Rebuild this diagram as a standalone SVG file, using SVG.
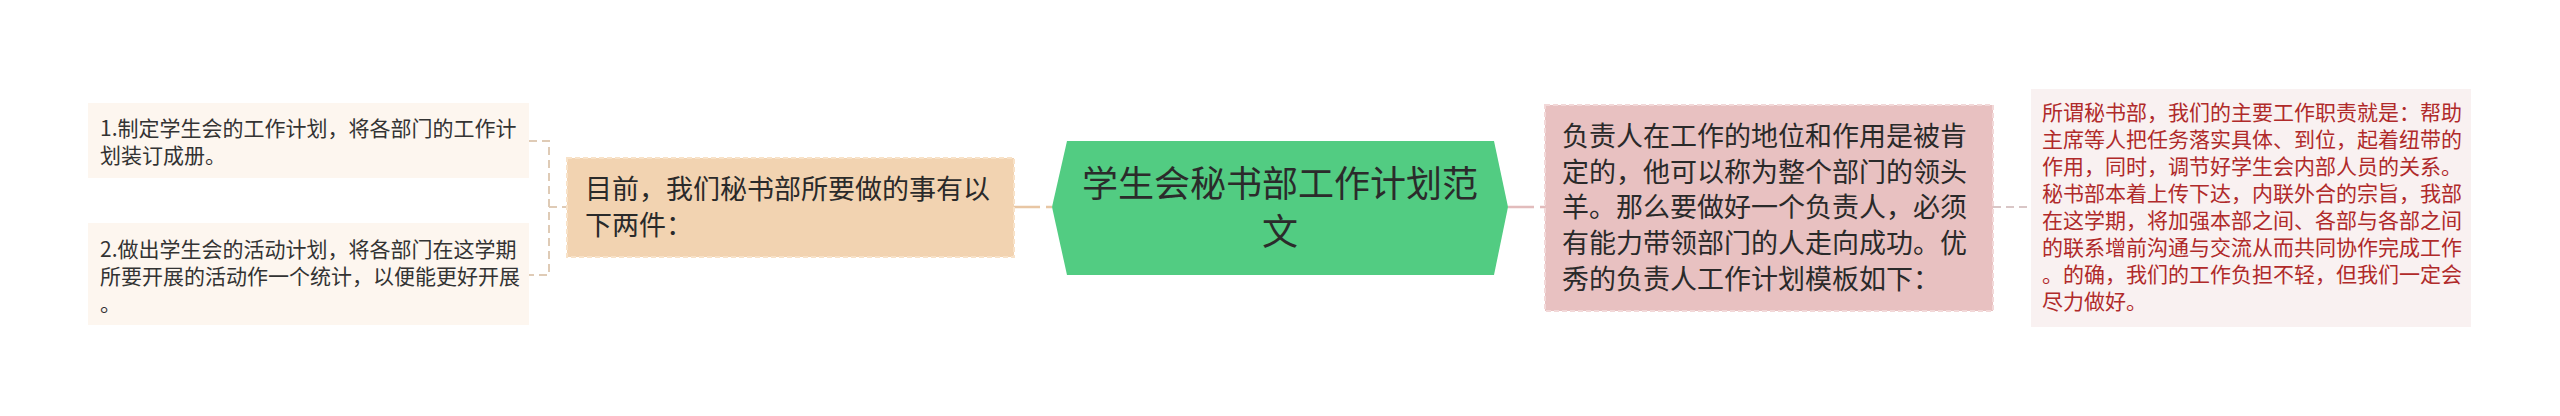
<svg xmlns="http://www.w3.org/2000/svg" width="2560" height="416" viewBox="0 0 2560 416">
<style>
text{font-family:"Noto Sans CJK SC","Noto Sans",sans-serif;}
.s{font-size:21px;fill:#333;}
.m{font-size:27px;fill:#2a2a2a;}
.c{font-size:36px;fill:#2b2b2b;text-anchor:middle;}
.r{font-size:21px;fill:#b02a2a;}
.ct{fill:none;stroke:#dfcbb6;stroke-width:2;stroke-dasharray:8 5;}
.ct2{fill:none;stroke:#e8c6a4;stroke-width:2.5;stroke-dasharray:26 6;}
.cp{fill:none;stroke:#e2bcbc;stroke-width:2.5;stroke-dasharray:26 6;}
.cp2{fill:none;stroke:#d9c6c6;stroke-width:2;stroke-dasharray:8 5;}
</style>
<rect width="2560" height="416" fill="#ffffff"/>
<g id="connectors">
<path class="ct" d="M529 141 H549 V275 H529 M549 207 H567"/>
<path class="ct2" d="M1014 207 H1052"/>
<path class="cp" d="M1508 207 H1545"/>
<path class="cp2" d="M1993 207 H2031"/>
</g>
<g id="node-center">
<polygon points="1052,207 1067,141 1494,141 1508,207 1494,275 1067,275" fill="#52cc82"/>
<text class="c" x="1280" y="197">学生会秘书部工作计划范</text>
<text class="c" x="1280" y="245">文</text>
</g>
<g id="node-left-main">
<rect x="567" y="158" width="447" height="99" fill="#f2d3b1" stroke="#f8e2c8" stroke-width="2" stroke-dasharray="5 3"/>
<text class="m" x="585" y="199">目前，我们秘书部所要做的事有以</text>
<text class="m" x="585" y="235">下两件：</text>
</g>
<g id="node-left-1">
<rect x="88" y="103" width="441" height="75" fill="#fdf6ef"/>
<text class="s" x="100" y="136">1.制定学生会的工作计划，将各部门的工作计</text>
<text class="s" x="100" y="163">划装订成册。</text>
</g>
<g id="node-left-2">
<rect x="88" y="223" width="441" height="102" fill="#fdf6ef"/>
<text class="s" x="100" y="257">2.做出学生会的活动计划，将各部门在这学期</text>
<text class="s" x="100" y="284">所要开展的活动作一个统计，以便能更好开展</text>
<text class="s" x="100" y="311">。</text>
</g>
<g id="node-right-main">
<rect x="1545" y="105" width="448" height="206" fill="#e8c1c1" stroke="#f2d8d8" stroke-width="2" stroke-dasharray="5 3"/>
<text class="m" x="1562" y="146">负责人在工作的地位和作用是被肯</text>
<text class="m" x="1562" y="182">定的，他可以称为整个部门的领头</text>
<text class="m" x="1562" y="217">羊。那么要做好一个负责人，必须</text>
<text class="m" x="1562" y="253">有能力带领部门的人走向成功。优</text>
<text class="m" x="1562" y="289">秀的负责人工作计划模板如下：</text>
</g>
<g id="node-right-1">
<rect x="2031" y="89" width="440" height="238" fill="#f9f1f1"/>
<text class="r" x="2042" y="120">所谓秘书部，我们的主要工作职责就是：帮助</text>
<text class="r" x="2042" y="147">主席等人把任务落实具体、到位，起着纽带的</text>
<text class="r" x="2042" y="174">作用，同时，调节好学生会内部人员的关系。</text>
<text class="r" x="2042" y="201">秘书部本着上传下达，内联外合的宗旨，我部</text>
<text class="r" x="2042" y="228">在这学期，将加强本部之间、各部与各部之间</text>
<text class="r" x="2042" y="255">的联系增前沟通与交流从而共同协作完成工作</text>
<text class="r" x="2042" y="282">。的确，我们的工作负担不轻，但我们一定会</text>
<text class="r" x="2042" y="309">尽力做好。</text>
</g>
</svg>
